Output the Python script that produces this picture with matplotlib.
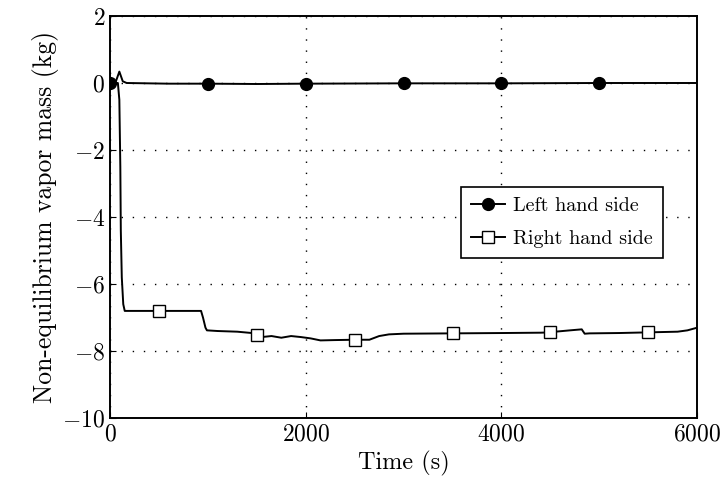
import matplotlib.pyplot as plt
import numpy as np

plt.rcParams['font.family'] = 'cmr10'
plt.rcParams['mathtext.fontset'] = 'cm'
plt.rcParams['axes.formatter.use_mathtext'] = True

# Left hand side: time (s) and vapor mass (kg)
t_left = [0, 60, 95, 130, 170, 600, 1000, 1500, 2000, 3000, 4000, 5000, 6000]
m_left = [0, 0.05, 0.34, 0.05, 0, -0.02, -0.02, -0.03, -0.02, -0.01, -0.01, 0, 0]
marks_left = [0, 6, 8, 9, 10, 11]

# Right hand side
t_right = [0, 80, 95, 105, 110, 120, 135, 150, 500, 930, 950, 975, 990, 1100, 1300,
           1450, 1500, 1550, 1650, 1750, 1850, 1950, 2050, 2150, 2300, 2500, 2650,
           2750, 2850, 3000, 3500, 4000, 4400, 4500, 4550, 4700, 4820, 4850, 4900,
           5200, 5500, 5800, 5900, 6000]
m_right = [0, 0, -0.5, -2.5, -4.4, -5.8, -6.6, -6.8, -6.8, -6.8, -7.0, -7.3, -7.38,
           -7.4, -7.42, -7.46, -7.52, -7.58, -7.55, -7.6, -7.55, -7.58, -7.62, -7.68,
           -7.67, -7.66, -7.66, -7.55, -7.5, -7.48, -7.47, -7.46, -7.45, -7.44, -7.42,
           -7.38, -7.35, -7.48, -7.47, -7.46, -7.44, -7.42, -7.38, -7.30]
marks_right = [8, 16, 25, 30, 33, 40]

fig = plt.figure(figsize=(7.24, 4.99), dpi=100)
ax = fig.add_axes([0.152, 0.162, 0.811, 0.806])

ax.plot(t_left, m_left, color='black', lw=1.4, marker='o', markersize=8.5,
        markevery=marks_left, label='Left hand side')
ax.plot(t_right, m_right, color='black', lw=1.4, marker='s', markersize=8,
        markerfacecolor='white', markeredgewidth=1.0, markevery=marks_right,
        label='Right hand side')

ax.set_xlim(0, 6000)
ax.set_ylim(-10, 2)
ax.set_xticks([0, 2000, 4000, 6000])
ax.set_yticks([-10, -8, -6, -4, -2, 0, 2])
ax.grid(True, color='black', linestyle=(0, (1, 7)), linewidth=1.0)
ax.tick_params(direction='in', labelsize=17, length=4)
for s in ax.spines.values():
    s.set_linewidth(1.4)

ax.set_xlabel('Time (s)', fontsize=17.5)
ax.set_ylabel('Non-equilibrium vapor mass (kg)', fontsize=18.5, labelpad=2)

leg = ax.legend(loc='upper right', bbox_to_anchor=(0.942, 0.575), borderaxespad=0,
                fontsize=14.5, fancybox=False, edgecolor='black', framealpha=1,
                handlelength=1.7, borderpad=0.5, labelspacing=0.75, handletextpad=0.4)
leg.get_frame().set_linewidth(1.2)

fig.savefig('out.png', dpi=100)
